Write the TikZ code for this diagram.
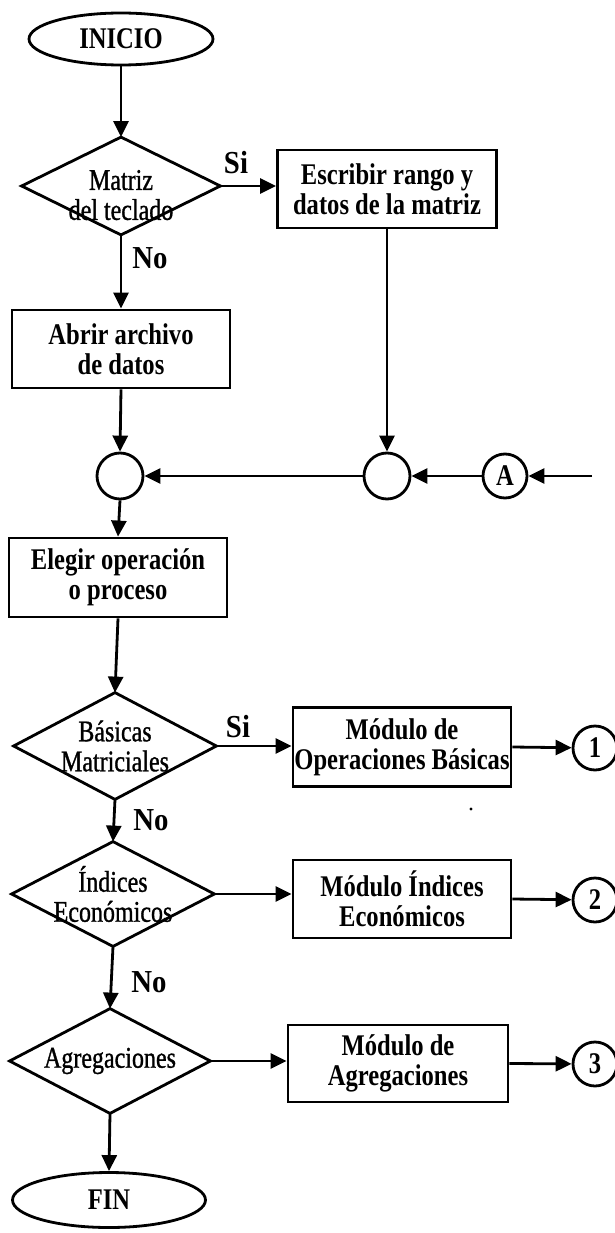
\documentclass[tikz,border=0pt]{standalone}
\usepackage{fontspec}
\setmainfont{Liberation Serif}
\newfontfamily\narrowserif{Liberation Serif}[FakeStretch=0.82]
\newfontfamily\askserif{Liberation Serif}[FakeStretch=0.8,FakeBold=1]
\newfontfamily\labelserif{Liberation Serif}[FakeStretch=0.9]
\usetikzlibrary{arrows.meta,shapes.geometric}

\newcommand{\boxfont}{\narrowserif\bfseries\fontsize{30}{30}\selectfont}
\newcommand{\askfont}{\askserif\fontsize{30}{30}\selectfont}

\begin{document}
\begin{tikzpicture}[
  x=1pt, y=-1pt,
  line width=2.8pt,
  >={Triangle[length=16pt,width=15pt]},
  every node/.style={line width=2.8pt},
  terminal/.style={draw, ellipse, inner sep=0pt, font=\boxfont},
  procbox/.style={draw, rectangle, inner sep=0pt, align=center, font=\boxfont},
  decision/.style={rectangle, inner sep=0pt, align=center, font=\askfont},
  joint/.style={draw, circle, inner sep=0pt, minimum size=46pt},
  connector/.style={draw, circle, inner sep=0pt, minimum size=44pt,
                    font=\narrowserif\bfseries\fontsize{30}{30}\selectfont},
  answer/.style={inner sep=0pt, font=\labelserif\bfseries\fontsize{32}{32}\selectfont},
  flow/.style={->}
]
\useasboundingbox (0,0) rectangle (614,1233);

% start / end
\node[terminal, minimum width=184pt, minimum height=52pt] (inicio) at (121,39) {INICIO};
\node[terminal, minimum width=193pt, minimum height=55pt] (fin) at (109,1200) {FIN};

% decisions (outline drawn below from the node anchors)
\node[decision, minimum width=196pt, minimum height=95pt] (dmat) at (121,186)
  {\rule{0pt}{38pt}Matriz\\del teclado};
\node[decision, minimum width=200pt, minimum height=104pt] (dbas) at (115,746)
  {Básicas\\Matriciales};
\node[decision, minimum width=200pt, minimum height=102pt] (dind) at (113,894)
  {Índices\\Económicos};
\node[decision, minimum width=198pt, minimum height=102pt] (dagr) at (110,1061)
  {Agregaciones};
\foreach \d in {dmat,dbas,dind,dagr}
  \draw[line join=miter] (\d.north) -- (\d.east) -- (\d.south) -- (\d.west) -- cycle;

% process boxes
\node[procbox, minimum width=219pt, minimum height=78pt] (escr) at (387,189)
  {Escribir rango y\\datos de la matriz};
\node[procbox, minimum width=218pt, minimum height=78pt] (abrir) at (121,349)
  {Abrir archivo\\de datos};
\node[procbox, minimum width=218pt, minimum height=79pt] (elegir) at (118,577.5)
  {Elegir operación\\o proceso};
\node[procbox, minimum width=218pt, minimum height=79pt] (mbas) at (402,747)
  {Módulo de\\Operaciones Básicas};
\node[procbox, minimum width=218pt, minimum height=78pt] (mind) at (402,899)
  {Módulo Índices\\Económicos};
\node[procbox, minimum width=220pt, minimum height=77pt] (magr) at (398,1063.5)
  {Módulo de\\Agregaciones};

% junctions and connectors
\node[joint] (j1) at (120,476) {};
\node[joint] (j2) at (387,476) {};
\node[connector] (ca) at (505,476) {A};
\coordinate (fromA) at (592,476);
\node[connector] (c1) at (595,748) {1};
\node[connector] (c2) at (595,900) {2};
\node[connector] (c3) at (595,1064) {3};

% main flow
\draw[flow] (inicio.south) -- (dmat.north);
\draw[flow] (dmat.east) -- (dmat.east -| escr.west);
\draw[flow] (dmat.south) -- (abrir.north);
\draw[flow] (abrir.south) -- (j1.north);
\draw[flow] (escr.south) -- (j2.north);
\draw[flow] (fromA) -- (ca.east);
\draw[flow] (ca.west) -- (j2.east);
\draw[flow] (j2.west) -- (j1.east);
\draw[flow] (j1.south) -- (elegir.north);
\draw[flow] (elegir.south) -- (dbas.north);
\draw[flow] (dbas.east) -- (dbas.east -| mbas.west);
\draw[flow] (dbas.south) -- (dind.north);
\draw[flow] (dind.east) -- (dind.east -| mind.west);
\draw[flow] (dind.south) -- (dagr.north);
\draw[flow] (dagr.east) -- (dagr.east -| magr.west);
\draw[flow] (dagr.south) -- (fin.north);
\draw[flow] (mbas.east) -- (c1);
\draw[flow] (mind.east) -- (c2);
\draw[flow] (magr.east) -- (c3);

% branch labels
\node[answer] (si1) at (236,163) {Si};
\node[answer] (no1) at (150,258) {No};
\node[answer] (si2) at (238,727) {Si};
\node[answer] (no2) at (151,820) {No};
\node[answer] (no3) at (149,982) {No};

% stray ink dot
\fill (471,809) circle (1.6pt);
\end{tikzpicture}
\end{document}
